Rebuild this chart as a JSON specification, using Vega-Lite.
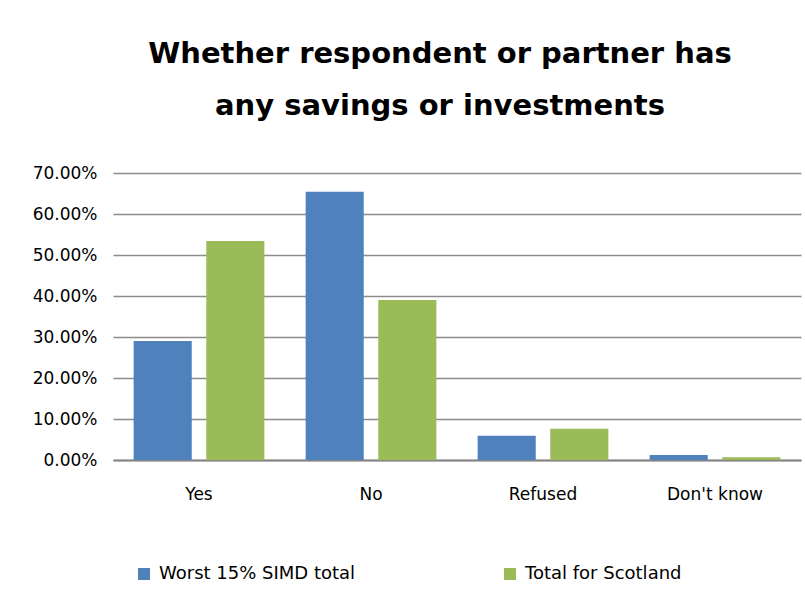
{
  "$schema": "https://vega.github.io/schema/vega-lite/v6.json",
  "autosize": {"type": "none"},
  "width": 688,
  "height": 287,
  "padding": {"left": 113, "top": 173, "right": 4, "bottom": 141},
  "background": "white",
  "title": {
    "text": ["Whether respondent or partner has", "any savings or investments"],
    "font": "DejaVu Sans",
    "fontSize": 29,
    "fontWeight": "bold",
    "color": "#000000",
    "lineHeight": 52,
    "anchor": "middle",
    "dx": -17,
    "offset": 43
  },
  "data": {
    "values": [
      {"answer": "Yes", "series": "Worst 15% SIMD total", "value": 0.290},
      {"answer": "Yes", "series": "Total for Scotland", "value": 0.534},
      {"answer": "No", "series": "Worst 15% SIMD total", "value": 0.654},
      {"answer": "No", "series": "Total for Scotland", "value": 0.390},
      {"answer": "Refused", "series": "Worst 15% SIMD total", "value": 0.059},
      {"answer": "Refused", "series": "Total for Scotland", "value": 0.076},
      {"answer": "Don't know", "series": "Worst 15% SIMD total", "value": 0.012},
      {"answer": "Don't know", "series": "Total for Scotland", "value": 0.007}
    ]
  },
  "mark": {"type": "bar"},
  "encoding": {
    "x": {
      "field": "answer",
      "type": "nominal",
      "sort": null,
      "title": null,
      "scale": {"paddingInner": 0.24, "paddingOuter": 0.12},
      "axis": {
        "labelAngle": 0,
        "labelFont": "DejaVu Sans",
        "labelFontSize": 17,
        "labelColor": "#000000",
        "labelPadding": 26,
        "ticks": false,
        "domainColor": "#868686",
        "domainWidth": 2,
        "grid": false
      }
    },
    "xOffset": {
      "field": "series",
      "type": "nominal",
      "sort": ["Worst 15% SIMD total", "Total for Scotland"],
      "scale": {"paddingInner": 0.2, "paddingOuter": 0}
    },
    "y": {
      "field": "value",
      "type": "quantitative",
      "title": null,
      "scale": {"domain": [0, 0.7], "nice": false},
      "axis": {
        "values": [0, 0.1, 0.2, 0.3, 0.4, 0.5, 0.6, 0.7],
        "format": ".2%",
        "labelFont": "DejaVu Sans",
        "labelFontSize": 17,
        "labelColor": "#000000",
        "labelPadding": 16,
        "ticks": false,
        "domain": false,
        "grid": true,
        "gridColor": "#8c8c8c",
        "gridWidth": 1.6
      }
    },
    "color": {
      "field": "series",
      "type": "nominal",
      "sort": ["Worst 15% SIMD total", "Total for Scotland"],
      "scale": {"domain": ["Worst 15% SIMD total", "Total for Scotland"], "range": ["#4F81BD", "#9BBB59"]},
      "legend": {
        "title": null,
        "orient": "none",
        "legendX": 22,
        "legendY": 392,
        "direction": "horizontal",
        "padding": 0,
        "columnPadding": 145,
        "symbolType": "square",
        "symbolSize": 144,
        "symbolStrokeWidth": 0,
        "labelOffset": 6,
        "labelFont": "DejaVu Sans",
        "labelFontSize": 18,
        "labelColor": "#000000",
        "labelLimit": 300
      }
    }
  },
  "config": {
    "view": {"stroke": null}
  }
}
